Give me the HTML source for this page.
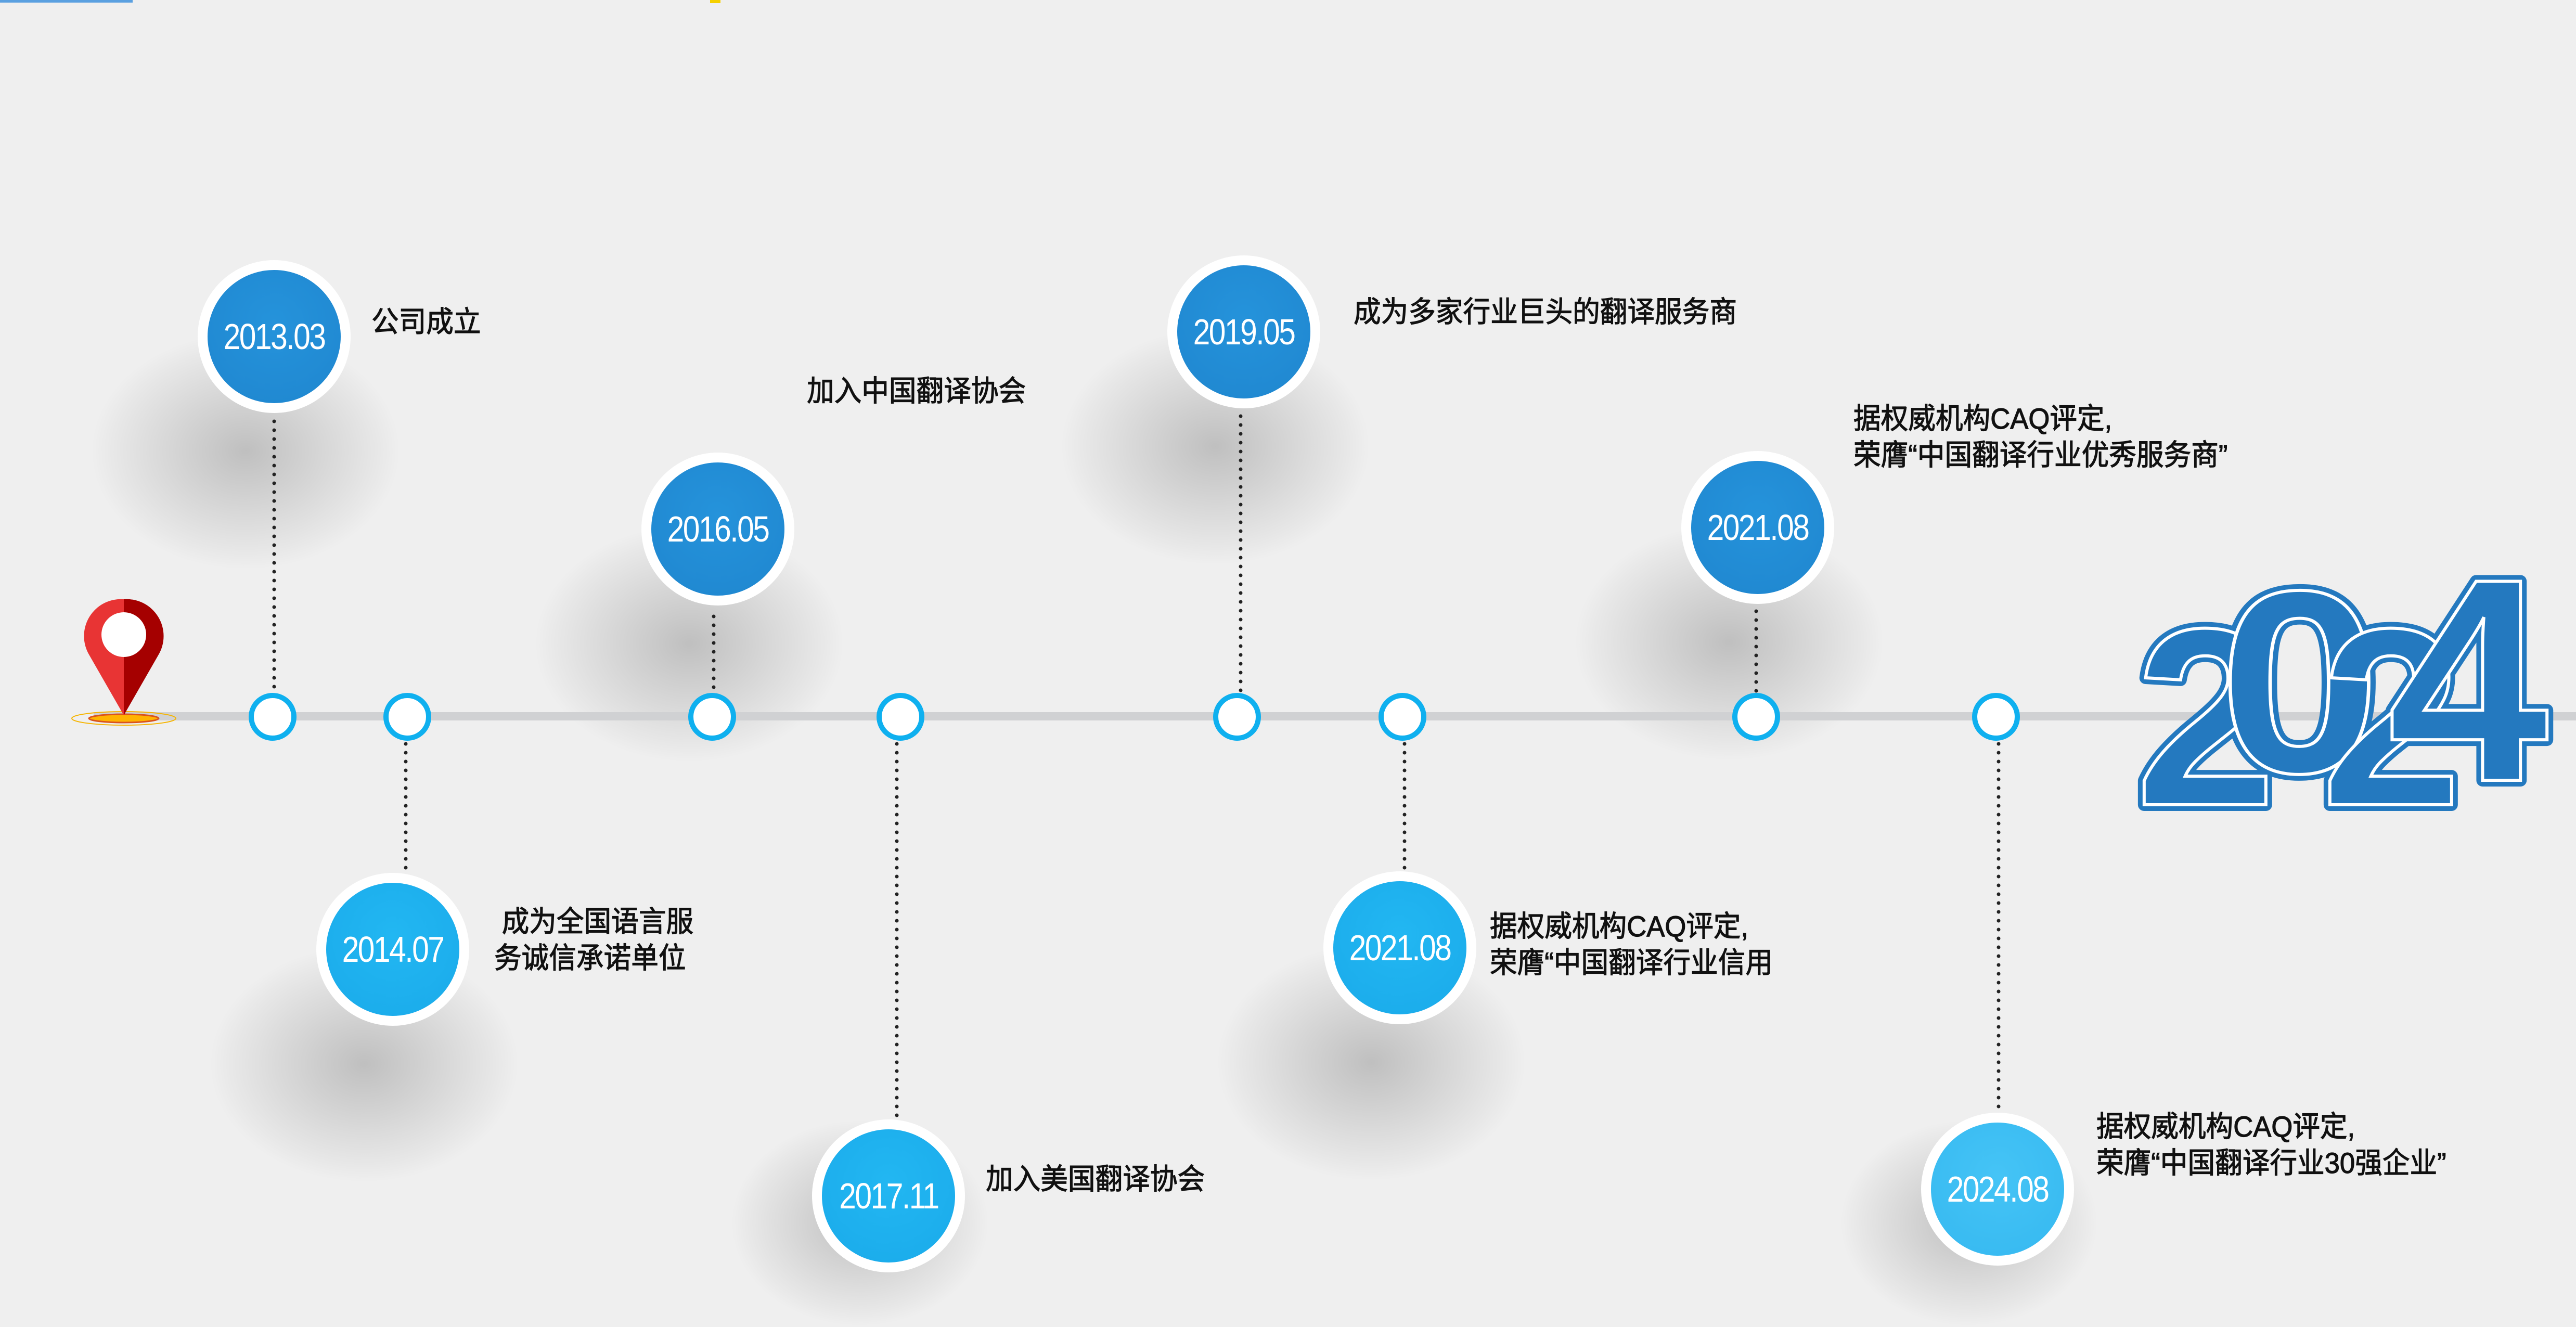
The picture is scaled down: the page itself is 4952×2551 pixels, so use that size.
<!DOCTYPE html>
<html><head><meta charset="utf-8"><style>
html,body{margin:0;padding:0;width:4952px;height:2551px;overflow:hidden}
body{position:relative;background:#efefef;font-family:"Liberation Sans","Noto Sans CJK SC",sans-serif}
.s{position:absolute;width:600px;height:460px;border-radius:50%;background:radial-gradient(ellipse at center,rgba(0,0,0,0.2) 0%,rgba(0,0,0,0.1) 35%,rgba(0,0,0,0.03) 60%,rgba(0,0,0,0) 70%)}
.c{position:absolute;width:294px;height:294px;border-radius:50%;background:#fff}
.c .in{position:absolute;left:19px;top:19px;width:256px;height:256px;border-radius:50%;display:flex;align-items:center;justify-content:center;color:#fff;font-size:70px;letter-spacing:-3px}
.c .in span{display:inline-block;transform:scaleX(0.84)}
.d .in{background:radial-gradient(circle at 50% 40%,#2593db,#1f86cf)}
.l .in{background:radial-gradient(circle at 50% 40%,#22b7f2,#1aaaea)}
.x .in{background:radial-gradient(circle at 50% 40%,#45c4f6,#35b8f0)}
.t{position:absolute;font-size:56px;line-height:70px;color:#111;white-space:nowrap;transform:scaleX(0.94);transform-origin:0 0;-webkit-text-stroke:1.2px #111}
</style></head><body>
<div style="position:absolute;left:0;top:0;width:255px;height:5px;background:#5aa0e0"></div>
<div style="position:absolute;left:1365px;top:0;width:20px;height:6px;background:#f5d000"></div>

<div class="s" style="left:172px;top:637px"></div>
<div class="s" style="left:400px;top:1815px"></div>
<div class="s" style="left:1025px;top:1007px"></div>
<div class="s" style="left:1403px;top:2151px;width:500px;height:400px"></div>
<div class="s" style="left:2036px;top:628px"></div>
<div class="s" style="left:2336px;top:1812px"></div>
<div class="s" style="left:3024px;top:1004px"></div>
<div class="s" style="left:3535px;top:2151px;width:500px;height:400px"></div>

<svg width="4952" height="2551" style="position:absolute;left:0;top:0">
<rect x="180" y="1369" width="4772" height="16" fill="#d0d1d3"/>
<g stroke="#222" stroke-width="7" stroke-linecap="round" stroke-dasharray="0 17">
<line x1="527" y1="810" x2="527" y2="1330"/>
<line x1="780" y1="1430" x2="780" y2="1670"/>
<line x1="1372" y1="1185" x2="1372" y2="1330"/>
<line x1="1724" y1="1430" x2="1724" y2="2145"/>
<line x1="2385" y1="800" x2="2385" y2="1330"/>
<line x1="2700" y1="1430" x2="2700" y2="1670"/>
<line x1="3376" y1="1175" x2="3376" y2="1330"/>
<line x1="3842" y1="1430" x2="3842" y2="2135"/>
</g>
<g fill="#fff" stroke="#0fb0ef" stroke-width="10">
<circle cx="524" cy="1378" r="41"/><circle cx="783" cy="1378" r="41"/>
<circle cx="1369" cy="1378" r="41"/><circle cx="1731" cy="1378" r="41"/>
<circle cx="2378" cy="1378" r="41"/><circle cx="2696" cy="1378" r="41"/>
<circle cx="3376" cy="1378" r="41"/><circle cx="3837" cy="1378" r="41"/>
</g>
<ellipse cx="238" cy="1381" rx="100" ry="13" fill="none" stroke="#f5b400" stroke-width="2"/>
<ellipse cx="238" cy="1381" rx="67" ry="8" fill="#ffb300" stroke="#d9531e" stroke-width="3"/>
<path d="M238 1152 A71 71 0 0 0 172 1260 L238 1375 Z" fill="#e83434"/>
<path d="M238 1152 A71 71 0 0 1 304 1260 L238 1375 Z" fill="#a50000"/>
<circle cx="238" cy="1220" r="43" fill="#fff"/>
<g font-family="Liberation Sans, sans-serif" font-weight="bold" fill="#2479bf" stroke="#2479bf" stroke-width="24" stroke-linejoin="round">
<text x="4105" y="1547" font-size="486">2</text>
<text x="0" y="0" font-size="500" transform="translate(4265,1484) scale(1.12,1)">0</text>
<text x="4462" y="1547" font-size="486">2</text>
<text x="4590" y="1500" font-size="556">4</text>
</g>
<g font-family="Liberation Sans, sans-serif" font-weight="bold" fill="#2479bf" stroke="#fff" stroke-width="6">
<text x="4105" y="1547" font-size="486">2</text>
<text x="0" y="0" font-size="500" transform="translate(4265,1484) scale(1.12,1)">0</text>
<text x="4462" y="1547" font-size="486">2</text>
<text x="4590" y="1500" font-size="556">4</text>
</g>
</svg>

<div class="c d" style="left:380px;top:500px"><div class="in"><span>2013.03</span></div></div>
<div class="c l" style="left:608px;top:1678px"><div class="in"><span>2014.07</span></div></div>
<div class="c d" style="left:1233px;top:870px"><div class="in"><span>2016.05</span></div></div>
<div class="c l" style="left:1561px;top:2152px"><div class="in"><span>2017.11</span></div></div>
<div class="c d" style="left:2244px;top:491px"><div class="in"><span>2019.05</span></div></div>
<div class="c l" style="left:2544px;top:1675px"><div class="in"><span>2021.08</span></div></div>
<div class="c d" style="left:3232px;top:867px"><div class="in"><span>2021.08</span></div></div>
<div class="c x" style="left:3693px;top:2139px"><div class="in"><span>2024.08</span></div></div>

<div class="t" style="left:714px;top:584px">公司成立</div>
<div class="t" style="left:1551px;top:717px">加入中国翻译协会</div>
<div class="t" style="left:2602px;top:565px">成为多家行业巨头的翻译服务商</div>
<div class="t" style="left:3563px;top:770px">据权威机构CAQ评定,<br>荣膺“中国翻译行业优秀服务商”</div>
<div class="t" style="left:950px;top:1737px">&nbsp;成为全国语言服<br>务诚信承诺单位</div>
<div class="t" style="left:1895px;top:2232px">加入美国翻译协会</div>
<div class="t" style="left:2864px;top:1746px">据权威机构CAQ评定,<br>荣膺“中国翻译行业信用</div>
<div class="t" style="left:4030px;top:2131px">据权威机构CAQ评定,<br>荣膺“中国翻译行业30强企业”</div>
</body></html>
